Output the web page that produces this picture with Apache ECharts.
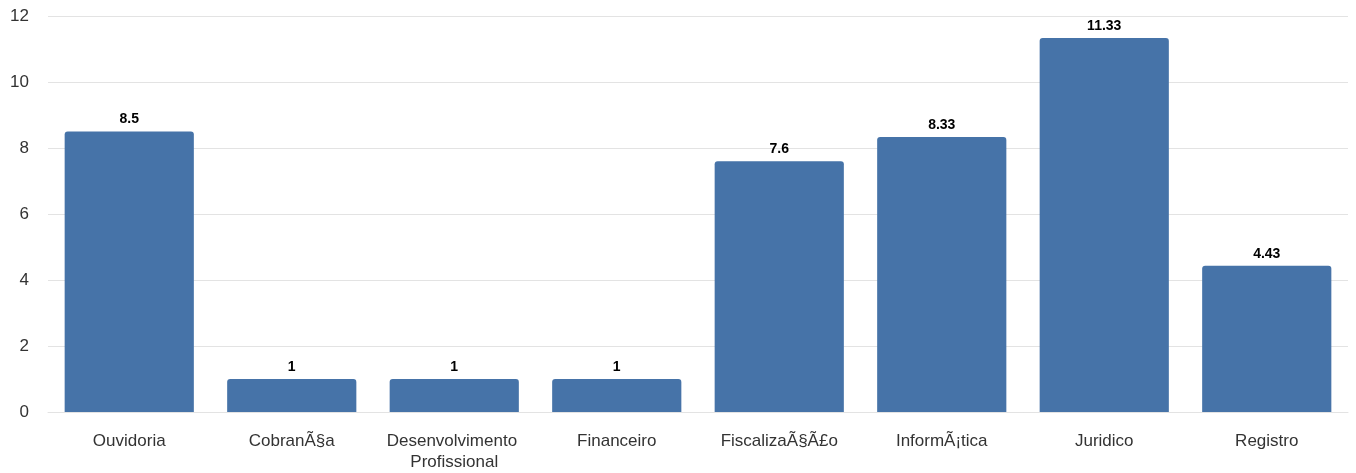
<!DOCTYPE html>
<html><head><meta charset="utf-8">
<script src="https://cdn.jsdelivr.net/npm/echarts@6/dist/echarts.min.js"></script>
<style>html,body{margin:0;padding:0;background:#fff}#c{width:1356px;height:473px}</style>
</head><body><div id="c"></div>
<script>
const categories = ["Ouvidoria", "CobranÃ§a", "Desenvolvimento Profissional", "Financeiro", "FiscalizaÃ§Ã£o", "InformÃ¡tica", "Juridico", "Registro"];
const values = [8.5, 1, 1, 1, 7.6, 8.33, 11.33, 4.43];
const yTicks = [0, 2, 4, 6, 8, 10, 12];

const chart = echarts.init(document.getElementById('c'), null, {renderer: 'canvas'});
chart.setOption({
  animation: false,
  grid: {left: 48, right: 8, top: 16, bottom: 60, containLabel: false},
  xAxis: {
    type: 'category',
    data: categories,
    axisLine: {show: true, lineStyle: {color: '#e3e3e3', width: 1}},
    axisTick: {show: false},
    axisLabel: {
      interval: 0, color: '#333', fontSize: 17, fontFamily: 'Liberation Sans, Arial, sans-serif',
      margin: 19, lineHeight: 21, width: 160, overflow: 'break'
    }
  },
  yAxis: {
    type: 'value',
    min: yTicks[0], max: yTicks[yTicks.length - 1], interval: 2,
    axisLine: {show: false}, axisTick: {show: false},
    splitLine: {lineStyle: {color: '#e3e3e3', width: 1}},
    axisLabel: {color: '#333', fontSize: 17, fontFamily: 'Liberation Sans, Arial, sans-serif', margin: 19}
  },
  series: [{
    type: 'bar',
    data: values,
    barWidth: '79.5%',
    itemStyle: {color: '#4673a8', borderRadius: [3, 3, 0, 0]},
    label: {
      show: true, position: 'top', distance: 5, color: '#000', fontWeight: 'bold', fontSize: 14,
      fontFamily: 'Liberation Sans, Arial, sans-serif'
    }
  }]
});
</script></body></html>
